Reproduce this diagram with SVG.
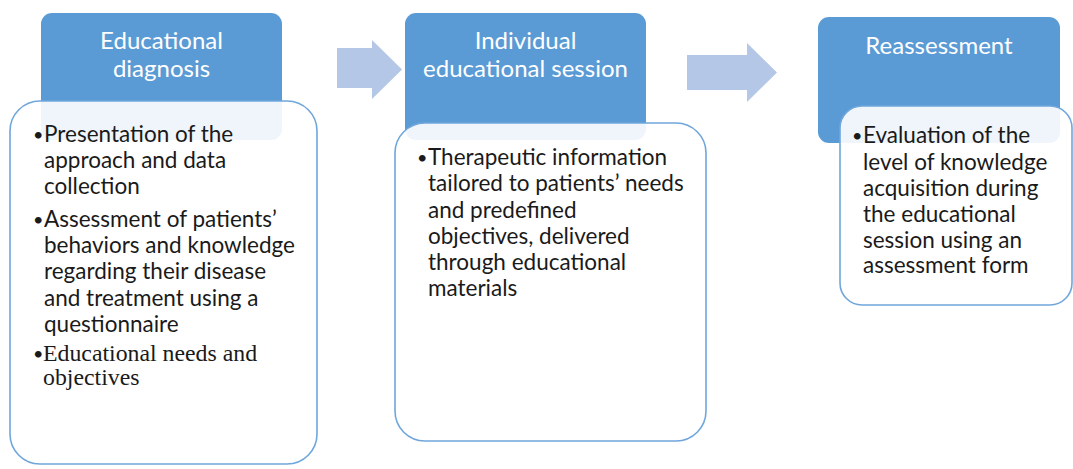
<svg xmlns="http://www.w3.org/2000/svg" width="1073" height="469" viewBox="0 0 1073 469">
  <style>
    .head { fill: #5b9bd5; }
    .body { fill: #ffffff; fill-opacity: 0.9; stroke: #6fa6dc; stroke-width: 1.6; }
    .arrow { fill: #b4c7e7; }
    .htxt { font-family: Lato, "Liberation Sans", sans-serif; font-size: 24px; fill: #ffffff; text-anchor: middle; }
    .btxt { font-family: Lato, "Liberation Sans", sans-serif; font-size: 22.5px; fill: #1a1a1a; }
    .bul { font-family: Lato, "Liberation Sans", sans-serif; font-size: 18px; fill: #1a1a1a; }
    .stxt { font-family: "Liberation Serif", serif; font-size: 23.8px; fill: #1a1a1a; }
  </style>
  <rect width="1073" height="469" fill="#ffffff"/>

  <!-- flow arrows between steps -->
  <g id="connectors">
    <polygon class="arrow" points="337,48 372,48 372,40 402,69.5 372,99 372,88 337,88"/>
    <polygon class="arrow" points="687,55 747,55 747,43 777,72.5 747,102 747,90 687,90"/>
  </g>

  <!-- step 1 -->
  <g id="step-diagnosis">
    <rect class="head" x="41" y="13" width="241" height="127" rx="11"/>
    <text class="htxt" x="161.5" y="49">Educational</text>
    <text class="htxt" x="161.5" y="77">diagnosis</text>
    <rect class="body" x="10" y="101" width="307" height="363" rx="30"/>
    <text class="bul" x="33" y="141">•</text>
    <text class="btxt" x="44" y="142">Presentation of the</text>
    <text class="btxt" x="44" y="168">approach and data</text>
    <text class="btxt" x="44" y="194">collection</text>
    <text class="bul" x="33" y="226">•</text>
    <text class="btxt" x="44" y="227">Assessment of patients’</text>
    <text class="btxt" x="44" y="253">behaviors and knowledge</text>
    <text class="btxt" x="44" y="279">regarding their disease</text>
    <text class="btxt" x="44" y="306">and treatment using a</text>
    <text class="btxt" x="44" y="332">questionnaire</text>
    <text class="bul" x="33" y="360">•</text>
    <text class="stxt" x="43" y="361">Educational needs and</text>
    <text class="stxt" x="43" y="385">objectives</text>
  </g>

  <!-- step 2 -->
  <g id="step-session">
    <rect class="head" x="405" y="13" width="241" height="127" rx="11"/>
    <text class="htxt" x="525.5" y="49">Individual</text>
    <text class="htxt" x="525.5" y="77">educational session</text>
    <rect class="body" x="395" y="123" width="311" height="318" rx="30"/>
    <text class="bul" x="417" y="164">•</text>
    <text class="btxt" x="428" y="165">Therapeutic information</text>
    <text class="btxt" x="428" y="191">tailored to patients’ needs</text>
    <text class="btxt" x="428" y="218">and predefined</text>
    <text class="btxt" x="428" y="244">objectives, delivered</text>
    <text class="btxt" x="428" y="270">through educational</text>
    <text class="btxt" x="428" y="296">materials</text>
  </g>

  <!-- step 3 -->
  <g id="step-reassessment">
    <rect class="head" x="818" y="17" width="242" height="126" rx="11"/>
    <text class="htxt" x="939" y="54">Reassessment</text>
    <rect class="body" x="840" y="106" width="232" height="199" rx="22"/>
    <text class="bul" x="852" y="142">•</text>
    <text class="btxt" x="863" y="143">Evaluation of the</text>
    <text class="btxt" x="863" y="170">level of knowledge</text>
    <text class="btxt" x="863" y="196">acquisition during</text>
    <text class="btxt" x="863" y="222">the educational</text>
    <text class="btxt" x="863" y="248">session using an</text>
    <text class="btxt" x="863" y="273">assessment form</text>
  </g>
</svg>
